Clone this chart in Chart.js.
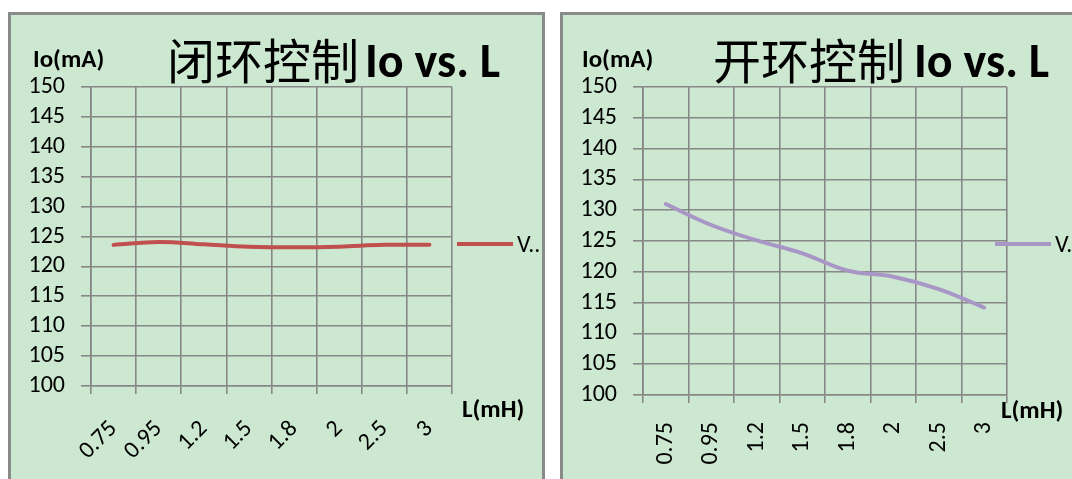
<!DOCTYPE html>
<html>
<head>
<meta charset="utf-8">
<script src="https://cdn.jsdelivr.net/npm/chart.js@4"></script>
<style>
  html, body { margin: 0; padding: 0; width: 1072px; height: 479px; overflow: hidden; background: #fff; }
  .panel { position: absolute; top: 12px; height: 490px; background: #cde8d0; border: 3px solid #8a8a8a; box-sizing: border-box; }
  #p1 { left: 8px; width: 537px; }
  #p2 { left: 560px; width: 560px; }
  canvas { position: absolute; }
  .t { position: absolute; white-space: nowrap; line-height: 1; color: #000; }
  .cjk { font-family: "Noto Sans CJK SC"; font-size: 48px; }
  .lat { font-family: Carlito, Lato; font-weight: bold; font-size: 48px; }
  .ax { font-family: Carlito, Lato; font-weight: bold; font-size: 25px; }
  .lg { font-family: Carlito, Lato; font-size: 24px; }
  .sw { position: absolute; height: 4px; }
</style>
</head>
<body>
<div class="panel" id="p1"></div>
<div class="panel" id="p2"></div>

<canvas id="c1" width="531" height="464" style="left:11px;top:15px"></canvas>
<canvas id="c2" width="509" height="464" style="left:563px;top:15px"></canvas>

<!-- closed-loop panel texts -->
<div class="t cjk" style="left:167px;top:34px">闭环控制</div>
<div class="t lat" style="left:365px;top:37px">Io vs. L</div>
<div class="t ax" style="left:33px;top:46px">Io(mA)</div>
<div class="t ax" style="left:462px;top:396px">L(mH)</div>
<div class="sw" style="left:457px;top:242px;width:56px;background:#c0504d"></div>
<div class="t lg" style="left:517px;top:232px">V..</div>

<!-- open-loop panel texts -->
<div class="t cjk" style="left:713px;top:34px">开环控制</div>
<div class="t lat" style="left:914px;top:37px">Io vs. L</div>
<div class="t ax" style="left:582px;top:46px">Io(mA)</div>
<div class="t ax" style="left:1001px;top:397px">L(mH)</div>
<div class="sw" style="left:995px;top:242px;width:56px;background:#a897c6"></div>
<div class="t lg" style="left:1055px;top:232px">V.</div>

<script>
// Inductance values L (mH) on the category axis
const inductance = ['0.75', '0.95', '1.2', '1.5', '1.8', '2', '2.5', '3'];
// Output current Io (mA), closed-loop control
const closedLoopIo = [123.6, 124.1, 123.7, 123.3, 123.2, 123.3, 123.6, 123.6];
// Output current Io (mA), open-loop control
const openLoopIo = [131.0, 127.6, 125.1, 123.0, 120.2, 119.2, 117.2, 114.2];
// Value axis range and step
const ioMin = 100;
const ioMax = 150;
const ioStep = 5;

const gridColor = '#878787';
const tickFont = { family: 'Carlito, Lato', size: 24 };

function buildChart(id, values, color, cfg) {
  return new Chart(document.getElementById(id), {
    type: 'line',
    data: {
      labels: inductance,
      datasets: [{
        label: 'V',
        data: values,
        borderColor: color,
        borderWidth: 4,
        borderCapStyle: 'round',
        tension: 0.4,
        pointRadius: 0,
        fill: false
      }]
    },
    options: {
      responsive: false,
      animation: false,
      devicePixelRatio: 1,
      layout: { padding: { top: cfg.top, right: cfg.right, left: 0, bottom: 0 } },
      plugins: { legend: { display: false }, tooltip: { enabled: false } },
      scales: {
        x: {
          type: 'category',
          offset: true,
          grid: { color: gridColor, lineWidth: 1.6, offset: true, tickLength: 8 },
          border: { color: gridColor, width: 1.6 },
          ticks: {
            autoSkip: false,
            minRotation: cfg.rotation,
            maxRotation: cfg.rotation,
            padding: cfg.xPad,
            color: '#000',
            font: tickFont
          },
          afterFit: (s) => { s.height = cfg.xHeight; }
        },
        y: {
          min: ioMin,
          max: ioMax,
          grid: { color: gridColor, lineWidth: 1.6, tickLength: 10 },
          border: { color: gridColor, width: 1.6 },
          ticks: { stepSize: ioStep, autoSkip: false, padding: 16, color: '#000', font: tickFont },
          afterFit: (s) => { s.width = cfg.yWidth; }
        }
      }
    }
  });
}

buildChart('c1', closedLoopIo, '#c0504d',
  { top: 72, right: 90, yWidth: 80, xHeight: 93, rotation: 45, xPad: 21 });
buildChart('c2', openLoopIo, '#a897c6',
  { top: 72, right: 65, yWidth: 80, xHeight: 84, rotation: 90, xPad: 19 });
</script>
</body>
</html>
